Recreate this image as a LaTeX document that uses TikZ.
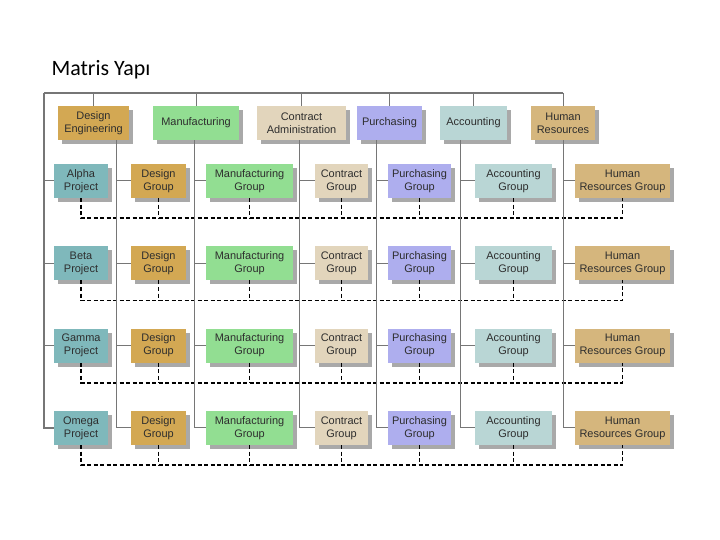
\documentclass[tikz,border=0pt]{standalone}
\usepackage{fontspec}
\setmainfont{Liberation Sans}
\newfontfamily\titlefont{Carlito}
\usepackage{tikz}
\usetikzlibrary{shadows}
\definecolor{MatrisLine}{HTML}{767676}
\definecolor{MatrisText}{HTML}{2E2E2E}
\definecolor{MatrisDesign}{HTML}{D3A853}
\definecolor{MatrisMfg}{HTML}{92DE92}
\definecolor{MatrisContract}{HTML}{E2D5BC}
\definecolor{MatrisPurch}{HTML}{AEAEEE}
\definecolor{MatrisAcc}{HTML}{B9D6D5}
\definecolor{MatrisHR}{HTML}{D5B67D}
\definecolor{MatrisProject}{HTML}{7FB8BB}

\begin{document}
\begin{tikzpicture}[x=1bp,y=-1bp,
    unit/.style={minimum height=34bp,inner sep=1bp,align=center,text=MatrisText,
      font=\fontsize{11}{13}\selectfont,
      drop shadow={shadow xshift=4bp,shadow yshift=-4bp,fill=black!45,opacity=0.75}},
    frame/.style={draw=MatrisLine,line width=1.6bp},
    link/.style={draw=MatrisLine,line width=1bp},
    busline/.style={draw=black,line width=1.4bp,dash pattern=on 4bp off 2.5bp}]
  \useasboundingbox (0,0) rectangle (720,540);
  \node[anchor=base west,font=\titlefont\fontsize{22}{26}\selectfont] (title) at (48,76) {Matris Yapı};

  \coordinate (topL) at (44,93);
  \coordinate (topR) at (563,93);
  \coordinate (colDes) at (116,0);
  \coordinate (colMan) at (194,0);
  \coordinate (colCon) at (299,0);
  \coordinate (colPur) at (376,0);
  \coordinate (colAcc) at (460,0);
  \coordinate (colHum) at (563,0);

  \node[unit,fill=MatrisDesign,minimum width=71bp] (dDes) at (93.5,123) {Design\\Engineering};
  \node[unit,fill=MatrisMfg,minimum width=86bp] (dMan) at (196,123) {Manufacturing};
  \node[unit,fill=MatrisContract,minimum width=89bp] (dCon) at (301.5,123) {Contract\\Administration};
  \node[unit,fill=MatrisPurch,minimum width=65bp] (dPur) at (389.5,123) {Purchasing};
  \node[unit,fill=MatrisAcc,minimum width=67bp] (dAcc) at (473.5,123) {Accounting};
  \node[unit,fill=MatrisHR,minimum width=64bp] (dHum) at (563,123) {Human\\Resources};

  \draw[frame] (topL) -- (topR);
  \foreach \d in {dDes,dMan,dCon,dPur,dAcc,dHum}
    \draw[link] (\d.north |- topL) -- (\d.north);

  \foreach \proj [count=\r] in {Alpha,Beta,Gamma,Omega} {
    \pgfmathsetmacro\yy{181+82.3*(\r-1)}
    \node[unit,fill=MatrisProject,minimum width=54bp] (proj\r) at (81,\yy) {\proj\\Project};
    \node[unit,fill=MatrisDesign,minimum width=55bp] (des\r) at (158.5,\yy) {Design\\Group};
    \node[unit,fill=MatrisMfg,minimum width=87bp] (man\r) at (249.5,\yy) {Manufacturing\\Group};
    \node[unit,fill=MatrisContract,minimum width=53bp] (con\r) at (341.5,\yy) {Contract\\Group};
    \node[unit,fill=MatrisPurch,minimum width=63bp] (pur\r) at (419.5,\yy) {Purchasing\\Group};
    \node[unit,fill=MatrisAcc,minimum width=77bp] (acc\r) at (513.5,\yy) {Accounting\\Group};
    \node[unit,fill=MatrisHR,minimum width=95bp] (hum\r) at (622.5,\yy) {Human\\Resources Group};

    \draw[link] (topL |- proj\r.west) -- (proj\r.west);
    \foreach \g/\c in {des/colDes,man/colMan,con/colCon,pur/colPur,acc/colAcc,hum/colHum}
      \draw[link] (\c |- \g\r.west) -- (\g\r.west);

    \draw[busline] (proj\r.south) -- ++(0,20) -| (hum\r.south);
    \foreach \g in {des,man,con,pur,acc}
      \draw[busline] (\g\r.south) -- ++(0,20);
  }

  \draw[frame] (topL) |- (proj4.west);
  \draw[link] (dDes.south -| colDes) -- (colDes |- des4.west);
  \draw[link] (dMan.south -| colMan) -- (colMan |- man4.west);
  \draw[link] (dCon.south -| colCon) -- (colCon |- con4.west);
  \draw[link] (dPur.south -| colPur) -- (colPur |- pur4.west);
  \draw[link] (dAcc.south -| colAcc) -- (colAcc |- acc4.west);
  \draw[link] (dHum.south -| colHum) -- (colHum |- hum4.west);
\end{tikzpicture}
\end{document}
